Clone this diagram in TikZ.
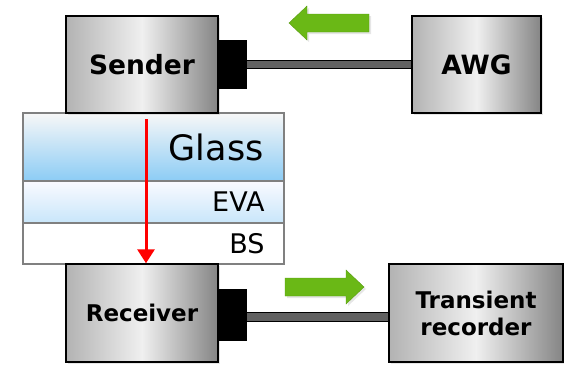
\documentclass[tikz,border=0pt]{standalone}
\usepackage{fontspec}
\setmainfont{DejaVu Sans}
\usetikzlibrary{arrows.meta,shadows}
\definecolor{glassblue}{RGB}{140,204,245}
\definecolor{evablue}{RGB}{200,230,250}
\definecolor{flowgreen}{RGB}{106,184,22}
\newcommand{\bigbold}{\fontsize{26.5}{31}\selectfont\bfseries}
\newcommand{\smallbold}{\fontsize{23}{27}\selectfont\bfseries}
\begin{document}
\begin{tikzpicture}[x=1pt,y=-1pt]
	\tikzstyle{device}=[rectangle,draw=black,line width=1.4pt,left color=black!30,right color=black!48,middle color=black!6,drop shadow={opacity=0.2,shadow xshift=2pt,shadow yshift=-2pt}]
	\tikzstyle{big}=[font=\bigbold,align=center]
	\tikzstyle{small}=[font=\smallbold,align=center]
	\tikzstyle{plug}=[rectangle,fill=black,inner sep=0pt,minimum width=29pt]
	\tikzstyle{layer}=[rectangle,draw=black!50,line width=1.4pt,inner sep=0pt,minimum width=261pt]
	\tikzstyle{tag}=[anchor=east,inner sep=0pt,font=\fontsize{27}{31}\selectfont]
	\tikzstyle{cable}=[line width=1.2pt,draw=black,double=black!62,double distance=7.5pt]
	\tikzstyle{signal}=[red,line width=3pt,-{Triangle[length=14pt,width=17pt]}]
	\tikzstyle{flow}=[fill=flowgreen,draw=flowgreen!85!black,line width=0.4pt,drop shadow={opacity=0.2,shadow xshift=2pt,shadow yshift=-2pt}]
	\useasboundingbox (0,0) rectangle (564,364);

	% sample stack
	\node[layer,top color=black!3,bottom color=glassblue,minimum height=68pt] (L1) at (153.5,147) {};
	\node[layer,top color=blue!2,bottom color=evablue,minimum height=42pt] (L2) at (153.5,202) {};
	\node[layer,fill=white,minimum height=41pt] (L3) at (153.5,243.5) {};
	\node[tag,font=\fontsize{35}{40}\selectfont] (G) at ([xshift=-21pt]L1.east) {Glass};
	\node[tag] (E) at ([xshift=-20pt]L2.east) {EVA};
	\node[tag] (B) at ([xshift=-20pt]L3.east) {BS};

	% devices
	\node[device,big,minimum width=152pt,minimum height=97pt] (S) at (142,64.5) {Sender};
	\node[device,big,minimum width=129pt,minimum height=97pt] (A) at (476.5,64.5) {AWG};
	\node[device,small,minimum width=152pt,minimum height=98pt] (R) at (142,313) {Receiver};
	\node[device,small,minimum width=174pt,minimum height=98pt] (T) at (476,313) {Transient\\recorder};
	\node[plug,minimum height=49pt] (P1) at (232.5,64.5) {};
	\node[plug,minimum height=52pt] (P2) at (232.5,315) {};

	\draw[cable] (P1.east) -- (A.west);
	\draw[cable] ([yshift=-2pt]P2.east) -- ([yshift=-2pt]P2.east -| T.west);

	\coordinate (s0) at (146,119);
	\draw[signal] (s0) -- (s0 |- R.north);

	\filldraw[flow] (289,23) -- (307,6) -- (307,14) -- (369,14) -- (369,32) -- (307,32) -- (307,40) -- cycle;
	\filldraw[flow] (364,287) -- (346,270) -- (346,278) -- (285,278) -- (285,296) -- (346,296) -- (346,304) -- cycle;
\end{tikzpicture}
\end{document}
